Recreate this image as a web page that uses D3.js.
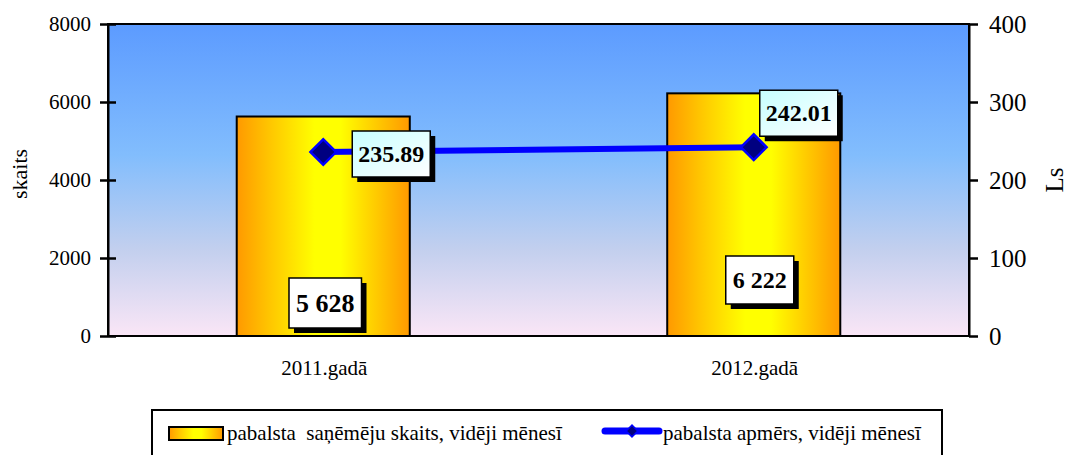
<!DOCTYPE html>
<html>
<head>
<meta charset="utf-8">
<script src="https://cdn.jsdelivr.net/npm/d3@7"></script>
<style>
  html, body { margin: 0; padding: 0; background: #fff; }
  svg { display: block; }
  svg text { font-family: "Liberation Serif", "Times New Roman", serif; }
</style>
</head>
<body>
<svg id="chart" width="1068" height="455"></svg>
<script>
// Yearly values
const categories = ["2011.gadā", "2012.gadā"];
const recipients = [5628, 6222];          // pabalsta saņēmēju skaits (left axis)
const benefitSize = [235.89, 242.01];     // pabalsta apmērs, Ls (right axis)
const recipientLabels = ["5 628", "6 222"];
const benefitLabels = ["235.89", "242.01"];
const leftTicks = [0, 2000, 4000, 6000, 8000];
const rightTicks = [0, 100, 200, 300, 400];
const legendLabels = ["pabalsta  saņēmēju skaits, vidēji mēnesī", "pabalsta apmērs, vidēji mēnesī"];

// Hand-placed label centres (px) relative to their marks
const benefitLabelOffset = [{dx: 68, dy: 2}, {dx: 45, dy: -34}];
const recipientLabelOffset = [{dx: 2, dy: -33}, {dx: 6, dy: -56}];

const FONT = "'Liberation Serif', 'Times New Roman', serif";
const svg = d3.select("#chart");
const plot = {left: 108, right: 969, top: 24, bottom: 336};

const x = d3.scaleBand().domain(categories).range([plot.left, plot.right]).padding(0);
const yL = d3.scaleLinear().domain([0, 8000]).range([plot.bottom, plot.top]);
const yR = d3.scaleLinear().domain([0, 400]).range([plot.bottom, plot.top]);
const barW = x.bandwidth() * 0.402;

const defs = svg.append("defs");
const bg = defs.append("linearGradient").attr("id", "bgGrad")
  .attr("x1", 0).attr("y1", 0).attr("x2", 0).attr("y2", 1);
bg.append("stop").attr("offset", 0).attr("stop-color", "#5c9bff");
bg.append("stop").attr("offset", 0.42).attr("stop-color", "#82bdfd");
bg.append("stop").attr("offset", 0.72).attr("stop-color", "#c2cfee");
bg.append("stop").attr("offset", 1).attr("stop-color", "#fae6f6");

const barGrad = defs.append("linearGradient").attr("id", "barGrad")
  .attr("x1", 0).attr("y1", 0).attr("x2", 1).attr("y2", 0);
barGrad.append("stop").attr("offset", 0).attr("stop-color", "#ff9900");
barGrad.append("stop").attr("offset", 0.2).attr("stop-color", "#ffc800");
barGrad.append("stop").attr("offset", 0.45).attr("stop-color", "#ffff00");
barGrad.append("stop").attr("offset", 0.6).attr("stop-color", "#ffff00");
barGrad.append("stop").attr("offset", 0.85).attr("stop-color", "#ffbf00");
barGrad.append("stop").attr("offset", 1).attr("stop-color", "#ff9900");

const boxGrad = defs.append("linearGradient").attr("id", "boxGrad")
  .attr("x1", 0).attr("y1", 0).attr("x2", 1).attr("y2", 1);
boxGrad.append("stop").attr("offset", 0).attr("stop-color", "#c6ffff");
boxGrad.append("stop").attr("offset", 1).attr("stop-color", "#ffffff");

// Plot background
svg.append("rect")
  .attr("x", plot.left).attr("y", plot.top)
  .attr("width", plot.right - plot.left).attr("height", plot.bottom - plot.top)
  .attr("fill", "url(#bgGrad)");

// Bars
svg.append("g").selectAll("rect").data(categories).join("rect")
  .attr("x", (d) => x(d) + x.bandwidth() / 2 - barW / 2)
  .attr("y", (d, i) => yL(recipients[i]))
  .attr("width", barW)
  .attr("height", (d, i) => yL(0) - yL(recipients[i]))
  .attr("fill", "url(#barGrad)")
  .attr("stroke", "#000").attr("stroke-width", 2);

// Plot frame
svg.append("rect")
  .attr("x", plot.left).attr("y", plot.top)
  .attr("width", plot.right - plot.left).attr("height", plot.bottom - plot.top)
  .attr("fill", "none").attr("stroke", "#000").attr("stroke-width", 2);

// Left axis
const axL = svg.append("g").attr("transform", `translate(${plot.left},0)`)
  .call(d3.axisLeft(yL).tickValues(leftTicks).tickFormat(d3.format("d"))
    .tickSize(8).tickSizeOuter(0).tickPadding(9));
axL.attr("font-family", FONT);
axL.select(".domain").attr("stroke", "#000").attr("stroke-width", 2);
axL.selectAll(".tick line").attr("stroke", "#000").attr("stroke-width", 2.5).attr("x2", 8).attr("x1", -8);
axL.selectAll(".tick text").attr("font-family", FONT).attr("font-size", 21).attr("fill", "#000");

// Right axis
const axR = svg.append("g").attr("transform", `translate(${plot.right},0)`)
  .call(d3.axisRight(yR).tickValues(rightTicks).tickFormat(d3.format("d"))
    .tickSize(9).tickSizeOuter(0).tickPadding(11));
axR.attr("font-family", FONT);
axR.select(".domain").attr("stroke", "#000").attr("stroke-width", 2);
axR.selectAll(".tick line").attr("stroke", "#000").attr("stroke-width", 2.5);
axR.selectAll(".tick text").attr("font-family", FONT).attr("font-size", 25).attr("fill", "#000");

// Category labels
svg.append("g").selectAll("text").data(categories).join("text")
  .attr("x", (d) => x(d) + x.bandwidth() / 2 + 1)
  .attr("y", 375)
  .attr("text-anchor", "middle")
  .attr("font-family", FONT)
  .attr("font-size", 21)
  .text((d) => d);

// Axis titles
svg.append("text").attr("transform", "translate(27,174) rotate(-90)")
  .attr("text-anchor", "middle").attr("font-family", FONT).attr("font-size", 22).text("skaits");
svg.append("text").attr("transform", "translate(1063,180) rotate(-90)")
  .attr("text-anchor", "middle").attr("font-family", FONT).attr("font-size", 25).text("Ls");

// Benefit line with diamond markers
const pts = categories.map((c, i) => [x(c) + x.bandwidth() / 2, yR(benefitSize[i])]);
svg.append("path")
  .attr("d", d3.line()(pts))
  .attr("fill", "none").attr("stroke", "#0000ff").attr("stroke-width", 6);
const diamond = d3.symbol().type(d3.symbolSquare).size(330);
svg.append("g").selectAll("path").data(pts).join("path")
  .attr("transform", (p) => `translate(${p[0]},${p[1]}) rotate(45)`)
  .attr("d", diamond)
  .attr("fill", "#000080").attr("stroke", "#0000ff").attr("stroke-width", 2.5);

// Boxed value label with drop shadow
function boxedLabel(cx, cy, text, fill, fontSize, padX, padY, shadow) {
  const g = svg.append("g");
  const t = g.append("text")
    .attr("x", cx).attr("y", cy)
    .attr("text-anchor", "middle").attr("dominant-baseline", "central")
    .attr("font-family", FONT)
    .attr("font-size", fontSize).attr("font-weight", "bold")
    .text(text);
  const bb = t.node().getBBox();
  const w = bb.width + padX * 2, h = fontSize + padY * 2;
  const bx = cx - w / 2, by = cy - h / 2;
  g.insert("rect", "text")
    .attr("x", bx + shadow).attr("y", by + shadow).attr("width", w).attr("height", h)
    .attr("fill", "#000");
  g.insert("rect", "text")
    .attr("x", bx).attr("y", by).attr("width", w).attr("height", h)
    .attr("fill", fill).attr("stroke", "#000").attr("stroke-width", 1.5);
}

// Benefit labels beside each marker
benefitLabels.forEach((lab, i) => {
  boxedLabel(pts[i][0] + benefitLabelOffset[i].dx, pts[i][1] + benefitLabelOffset[i].dy,
    lab, "url(#boxGrad)", 24, 6, 11, 5);
});

// Recipient labels near the foot of each bar
recipientLabels.forEach((lab, i) => {
  const cx = x(categories[i]) + x.bandwidth() / 2;
  boxedLabel(cx + recipientLabelOffset[i].dx, yL(0) + recipientLabelOffset[i].dy,
    lab, "#fff", i === 0 ? 26 : 24, 7, 12, 5);
});

// Legend
const lg = svg.append("g").attr("font-family", FONT);
lg.append("rect").attr("x", 152).attr("y", 410).attr("width", 790).attr("height", 60)
  .attr("fill", "#fff").attr("stroke", "#000").attr("stroke-width", 2);
lg.append("rect").attr("x", 169).attr("y", 427).attr("width", 54).attr("height", 13)
  .attr("fill", "url(#barGrad)").attr("stroke", "#000").attr("stroke-width", 2);
lg.append("text").attr("x", 227).attr("y", 440).attr("font-family", FONT).attr("font-size", 21)
  .style("white-space", "pre").text(legendLabels[0]);
lg.append("line").attr("x1", 605).attr("x2", 659).attr("y1", 431).attr("y2", 431)
  .attr("stroke", "#0000ff").attr("stroke-width", 7).attr("stroke-linecap", "round");
lg.append("path").attr("transform", "translate(632,431) rotate(45)")
  .attr("d", d3.symbol().type(d3.symbolSquare).size(70))
  .attr("fill", "#000080").attr("stroke", "#0000ff").attr("stroke-width", 1.5);
lg.append("text").attr("x", 663).attr("y", 440).attr("font-family", FONT).attr("font-size", 21)
  .text(legendLabels[1]);
</script>
</body>
</html>
